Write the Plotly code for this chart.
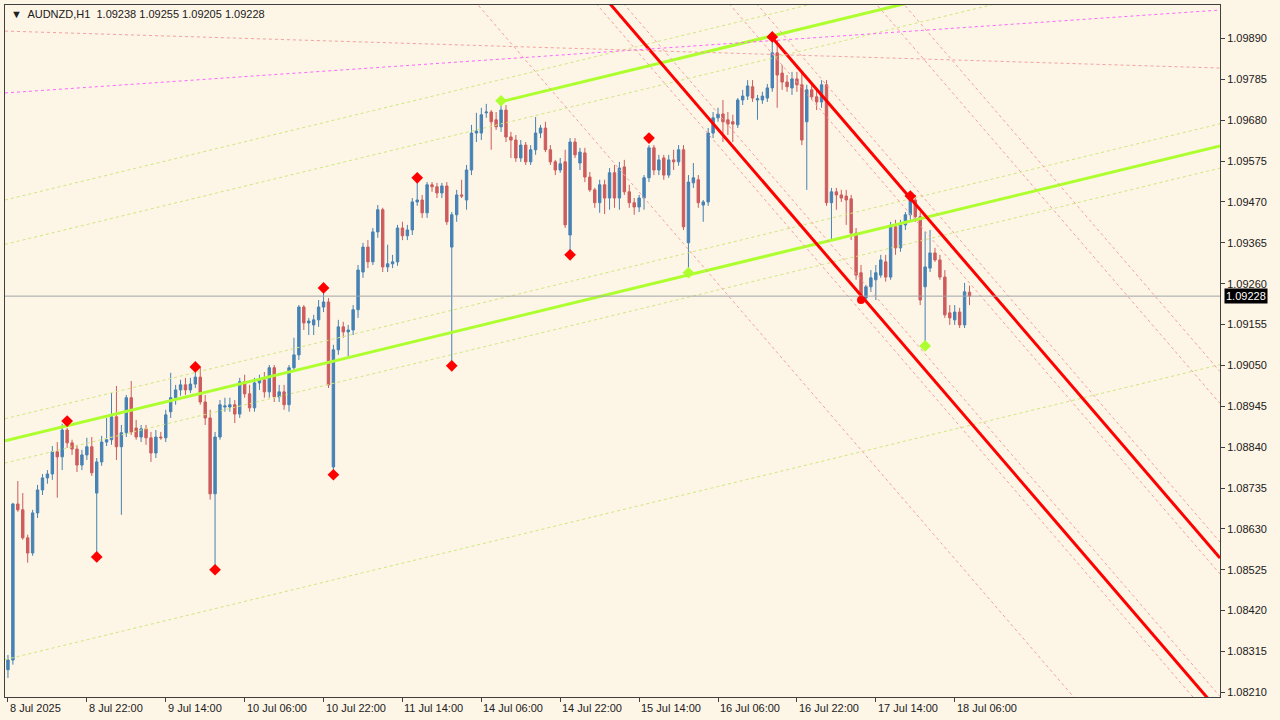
import plotly.graph_objects as go

# OHLC in price points (1e-5)
opens = [108268,108293,108694,108679,108607,108568,108671,108730,108761,108771,108828,108815,108884,108851,108835,108794,108820,108841,108722,108802,
108853,108859,108918,108841,108877,108967,108889,108866,108887,108864,108825,108866,108864,108931,108967,108987,109000,108987,109002,109020,
108956,108915,108720,108866,108943,108943,108949,108925,109008,108977,108941,109005,109013,108982,109044,108969,108982,108949,109044,109077,
109200,109159,109154,109167,109200,109213,108789,109090,109149,109136,109141,109193,109290,109354,109316,109393,109450,109303,109311,109316,
109403,109383,109398,109470,109475,109442,109514,109509,109493,109511,109354,109437,109488,109475,109552,109647,109647,109699,109701,109681,
109663,109706,109637,109629,109583,109616,109573,109604,109647,109660,109604,109573,109552,109573,109385,109624,109570,109596,109534,109501,
109468,109514,109480,109545,109480,109560,109496,109468,109457,109480,109532,109609,109552,109583,109539,109578,109573,109604,109365,109519,
109527,109462,109470,109647,109686,109696,109681,109676,109668,109732,109742,109766,109732,109732,109737,109763,109853,109801,109778,109763,
109786,109771,109676,109758,109740,109727,109771,109468,109496,109488,109485,109478,109390,109288,109223,109252,109270,109282,109316,109277,
109406,109352,109411,109437,109475,109432,109252,109300,109339,109321,109277,109185,109167,109187,109154,109238]
highs = [108306,108697,108753,108722,108615,108679,108743,108771,108781,108843,108853,108900,108889,108859,108846,108833,108864,108866,108812,108869,
108915,108979,108997,108897,108974,109010,108910,108897,108897,108879,108884,108879,108936,109031,109000,109013,109018,109018,109038,109044,
108974,108936,108879,108961,108967,108967,108961,109018,109026,109000,109018,109026,109033,109051,109051,109000,109000,109051,109121,109205,
109205,109172,109180,109218,109244,109223,109103,109167,109162,109154,109205,109308,109365,109372,109403,109462,109455,109360,109334,109411,
109419,109411,109480,109532,109488,109521,109521,109519,109519,109521,109444,109501,109527,109565,109668,109699,109712,109722,109706,109701,
109727,109719,109650,109642,109629,109624,109616,109688,109668,109676,109616,109578,109583,109604,109634,109634,109609,109609,109547,109506,
109527,109527,109557,109565,109573,109578,109514,109480,109488,109539,109616,109616,109591,109591,109591,109604,109616,109616,109539,109570,
109539,109475,109660,109701,109712,109732,109701,109694,109737,109758,109783,109783,109745,109753,109773,109899,109886,109822,109796,109804,
109804,109801,109771,109778,109758,109783,109783,109506,109506,109501,109501,109488,109403,109308,109257,109295,109308,109334,109334,109419,
109424,109424,109444,109488,109488,109444,109393,109398,109352,109334,109295,109205,109205,109198,109262,109255]
lows = [108247,108281,108674,108602,108543,108561,108658,108717,108746,108756,108710,108781,108838,108820,108776,108781,108807,108766,108558,108792,
108843,108846,108807,108666,108866,108871,108859,108853,108846,108802,108812,108859,108853,108915,108949,108972,108974,108979,108992,108949,
108897,108705,108532,108859,108931,108931,108902,108915,108967,108931,108931,108987,108967,108967,108956,108956,108936,108931,109033,109064,
109141,109128,109128,109149,109187,108992,108769,109077,109121,109072,109128,109172,109275,109300,109308,109378,109290,109290,109300,109306,
109372,109372,109385,109460,109429,109429,109496,109480,109480,109411,109049,109419,109480,109450,109539,109624,109629,109686,109604,109655,
109650,109624,109583,109573,109573,109565,109565,109591,109634,109598,109565,109539,109545,109403,109334,109583,109552,109521,109496,109455,
109442,109439,109450,109455,109450,109488,109455,109437,109444,109450,109521,109539,109539,109527,109532,109552,109563,109398,109290,109506,
109455,109419,109460,109634,109676,109624,109642,109624,109660,109719,109732,109727,109681,109722,109727,109753,109712,109758,109753,109745,
109753,109616,109501,109732,109706,109712,109460,109372,109450,109470,109411,109372,109270,109213,109213,109239,109218,109275,109265,109270,
109334,109342,109398,109424,109419,109205,109108,109290,109316,109270,109172,109154,109154,109146,109146,109205]
closes = [108293,108694,108679,108607,108568,108671,108730,108761,108771,108828,108815,108884,108851,108835,108794,108820,108841,108774,108802,108853,
108859,108918,108841,108877,108967,108879,108866,108887,108864,108825,108866,108864,108923,108967,108987,109000,108987,109002,109020,108956,
108915,108720,108866,108949,108946,108949,108925,109008,108977,108941,109005,109013,108982,109044,108969,108982,108949,109044,109077,109200,
109159,109164,109167,109200,109213,109000,109090,109149,109136,109141,109193,109295,109354,109316,109393,109450,109303,109311,109316,109403,
109383,109398,109470,109475,109442,109514,109509,109493,109511,109419,109437,109488,109485,109552,109647,109652,109694,109701,109676,109663,
109706,109637,109629,109583,109616,109573,109604,109647,109660,109604,109573,109552,109568,109411,109624,109591,109598,109534,109501,109468,
109514,109480,109545,109480,109557,109496,109468,109457,109480,109532,109609,109552,109578,109539,109578,109573,109604,109406,109521,109532,
109468,109470,109647,109686,109696,109676,109670,109670,109732,109742,109768,109737,109735,109742,109763,109853,109796,109778,109766,109786,
109771,109629,109758,109740,109727,109771,109468,109496,109488,109480,109475,109390,109282,109226,109252,109275,109288,109321,109277,109406,
109352,109411,109437,109480,109432,109218,109303,109339,109321,109277,109180,109172,109187,109154,109239,109228]

tick_prices = [1.08210,1.08315,1.08420,1.08525,1.08630,1.08735,1.08840,1.08945,1.09050,1.09155,1.09260,1.09365,1.09470,1.09575,1.09680,1.09785,1.09890]
x_label_idx = [0,16,32,48,64,80,96,112,128,144,160,176,192]
x_labels = ["8 Jul 2025","8 Jul 22:00","9 Jul 14:00","10 Jul 06:00","10 Jul 22:00","11 Jul 14:00","14 Jul 06:00",
            "14 Jul 22:00","15 Jul 14:00","16 Jul 06:00","16 Jul 22:00","17 Jul 14:00","18 Jul 06:00"]

# fractal markers (bar index, price points)
red_marks_x = [12,18,38,42,64,66,83,90,114,130,155,183]
red_marks_y = [108907,108558,109046,108525,109249,108769,109532,109049,109334,109634,109894,109485]
red_big_x = [173]; red_big_y = [109218]
green_marks_x = [100,138,186]
green_marks_y = [109730,109288,109100]

# trend lines: anchor (bar, points), slope points/bar, offsets
green_anchor = (-0.6, 108856); green_slope = 3.076
red_anchor = (173.8, 109218); red_slope = -14.72
magenta_pts = ([-0.6, 245.8], [109750, 109963])
pink_pts = ([-0.6, 245.8], [109909, 109814])
last_price = 1.09228

XMIN, XMAX = -0.6, 245.8
P = lambda v: [a / 1e5 for a in v]

fig = go.Figure()
n = len(closes)
fig.add_trace(go.Candlestick(
    x=list(range(n)), open=P(opens), high=P(highs), low=P(lows), close=P(closes),
    increasing=dict(line=dict(color="#4682b4", width=1), fillcolor="#4682b4"),
    decreasing=dict(line=dict(color="#cd5c5c", width=1), fillcolor="#cd5c5c"),
    whiskerwidth=0, hoverinfo="skip", showlegend=False))

def line(x0, x1, anchor, slope, off, color, width, dash):
    ax, ay = anchor
    ys = [(ay + slope * (x - ax) + off) / 1e5 for x in (x0, x1)]
    fig.add_trace(go.Scatter(x=[x0, x1], y=ys, mode="lines", hoverinfo="skip", showlegend=False,
                             line=dict(color=color, width=width, dash=dash)))

gdot = "#cfe87a"; rdot = "#f4a0a0"
for off in (-562, -57, 57, 505, 619):
    line(XMIN, XMAX, green_anchor, green_slope, off, gdot, 1, "dot")
line(XMIN, XMAX, green_anchor, green_slope, 0, "#adff2f", 3, "solid")
line(100, XMAX, green_anchor, green_slope, 562, "#adff2f", 3, "solid")

for off in (-397, -41, 41, 356, 438, 794, 876):
    line(XMIN, XMAX, red_anchor, red_slope, off, rdot, 1, "dot")
line(XMIN, XMAX, red_anchor, red_slope, 0, "#ff0000", 3, "solid")
line(155, XMAX, red_anchor, red_slope, 397, "#ff0000", 3, "solid")

fig.add_trace(go.Scatter(x=magenta_pts[0], y=P(magenta_pts[1]), mode="lines", hoverinfo="skip", showlegend=False,
                         line=dict(color="#ff66ff", width=1, dash="dot")))
fig.add_trace(go.Scatter(x=pink_pts[0], y=P(pink_pts[1]), mode="lines", hoverinfo="skip", showlegend=False,
                         line=dict(color="#f4a0a0", width=1, dash="dot")))
fig.add_trace(go.Scatter(x=[XMIN, XMAX], y=[last_price] * 2, mode="lines", hoverinfo="skip", showlegend=False,
                         line=dict(color="#a0a4a8", width=1)))

fig.add_trace(go.Scatter(x=red_marks_x, y=P(red_marks_y), mode="markers", hoverinfo="skip", showlegend=False,
                         marker=dict(symbol="diamond", size=9, color="#ff0000")))
fig.add_trace(go.Scatter(x=red_big_x, y=P(red_big_y), mode="markers", hoverinfo="skip", showlegend=False,
                         marker=dict(symbol="circle", size=8, color="#ff0000")))
fig.add_trace(go.Scatter(x=green_marks_x, y=P(green_marks_y), mode="markers", hoverinfo="skip", showlegend=False,
                         marker=dict(symbol="diamond", size=9, color="#adff2f")))

font = dict(family="Liberation Sans", size=11, color="#202020")
ann = [dict(x=i, y=0, xref="x", yref="paper", yshift=-3, xanchor="left", yanchor="top", text=t,
            showarrow=False, font=font) for i, t in zip(x_label_idx, x_labels)]
ann.append(dict(x=0, y=1, xref="paper", yref="paper", xshift=4, yshift=-1, xanchor="left", yanchor="top",
                text="▼  AUDNZD,H1  1.09238 1.09255 1.09205 1.09228", showarrow=False, font=font))
ann.append(dict(x=1, y=last_price, xref="paper", yref="y", xshift=4, xanchor="left", yanchor="middle",
                text="1.09228", showarrow=False, bgcolor="#000000", font=dict(family="Liberation Sans", size=11, color="#ffffff")))

fig.update_layout(
    width=1280, height=720, autosize=False,
    paper_bgcolor="#fdf5e6", plot_bgcolor="#fdf5e6",
    margin=dict(l=5, r=60, t=5, b=23),
    annotations=ann,
    xaxis=dict(range=[XMIN, XMAX], showgrid=False, zeroline=False, rangeslider=dict(visible=False),
               tickvals=x_label_idx, ticktext=[""] * len(x_label_idx), ticks="outside", ticklen=4,
               tickcolor="#404040", showline=True, linecolor="#404040", mirror=True),
    yaxis=dict(range=[1.08198, 1.09976], side="right", showgrid=False, zeroline=False,
               tickvals=tick_prices, ticktext=[f"{v:.5f}" for v in tick_prices], ticks="outside", ticklen=4,
               tickcolor="#404040", tickfont=font, showline=True, linecolor="#404040", mirror=True),
)
fig.write_html("out.html", config={"displayModeBar": False},
               post_script="document.body.style.margin='0px';document.body.style.overflow='hidden';")
